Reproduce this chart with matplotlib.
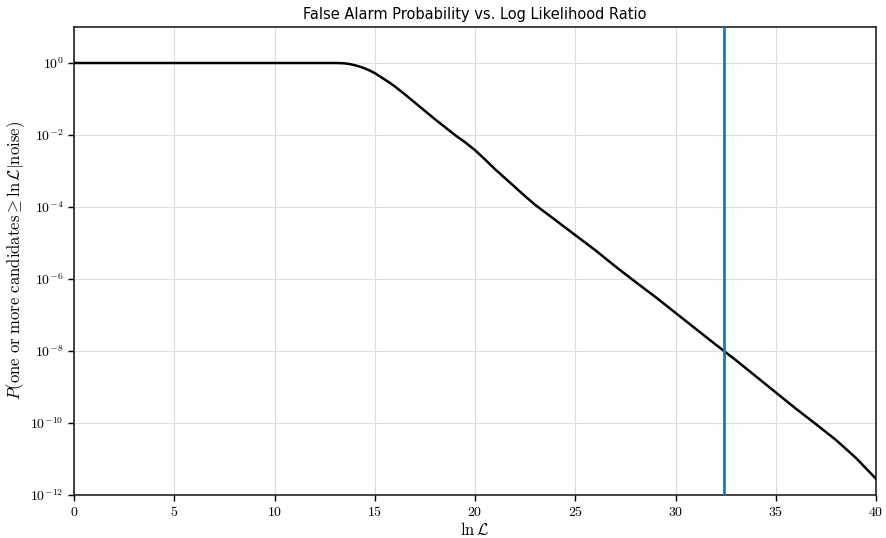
import matplotlib
matplotlib.use("Agg")
import matplotlib.pyplot as plt
import numpy as np

plt.rcParams['mathtext.fontset'] = 'cm'
plt.rcParams['font.family'] = ['DejaVu Sans']

# Curve: ln L vs log10 of false alarm probability
lnL = [0, 5, 10, 12, 13, 13.25, 13.5, 13.75, 14, 14.25, 14.5, 14.75, 15, 15.25, 15.5, 15.75,
       16, 16.5, 17, 17.5, 18, 18.5, 19, 19.5,
       20, 20.5, 21, 21.5, 22, 22.5, 23, 23.5, 24, 24.5, 25, 26, 27, 28, 29, 30, 31, 32,
       33, 34, 35, 36, 37, 38, 39, 40]
log10_p = [0.0, 0.0, 0.0, 0.0, 0.0, -0.003, -0.01, -0.03, -0.06, -0.1, -0.15, -0.21, -0.28,
           -0.37, -0.46, -0.55, -0.65, -0.87, -1.1, -1.33, -1.56, -1.78, -2.0, -2.2,
           -2.42, -2.68, -2.95, -3.2, -3.45, -3.7, -3.94,
           -4.15, -4.36, -4.57, -4.78, -5.2, -5.65, -6.08, -6.5, -6.94, -7.38, -7.82,
           -8.25, -8.7, -9.15, -9.6, -10.03, -10.47, -10.97, -11.55]
threshold = 32.44

xlim = (0, 40)
ylim = (1e-12, 1e1)
xticks = [0, 5, 10, 15, 20, 25, 30, 35, 40]
yticks = [1e0, 1e-2, 1e-4, 1e-6, 1e-8, 1e-10, 1e-12]

fig = plt.figure(figsize=(8.86, 5.38), dpi=100)
ax = fig.add_axes([74/886, 1-495/538, (876-74)/886, (495-27)/538])

p = 10.0 ** np.array(log10_p)
ax.plot(lnL, p, color='black', lw=1.8, zorder=3)
ax.axvline(threshold, color='#1f77b4', lw=2.0, zorder=4)

ax.set_yscale('log')
ax.set_xlim(*xlim)
ax.set_ylim(*ylim)
ax.set_xticks(xticks)
ax.set_xticklabels([f'${t}$' for t in xticks])
ax.set_yticks(yticks)
ax.set_yticklabels([f'$10^{{{int(np.log10(t))}}}$' for t in yticks])
ax.minorticks_off()
ax.tick_params(labelsize=10, direction='out', length=4, width=1, color='black')
ax.grid(True, color='#dddddd', lw=0.8)
ax.set_axisbelow(True)
for s in ax.spines.values():
    s.set_linewidth(1.2)
    s.set_color('#222222')

ax.set_title('False Alarm Probability vs. Log Likelihood Ratio', fontsize=10.5, pad=6)
ax.set_xlabel(r'$\ln\mathcal{L}$', fontsize=12, labelpad=1)
ax.set_ylabel(r'$P(\mathrm{one\ or\ more\ candidates} \geq \ln\mathcal{L}|\mathrm{noise})$', fontsize=12)
ax.yaxis.set_label_coords(-0.058, 0.5)

fig.savefig('out.png', dpi=100)
